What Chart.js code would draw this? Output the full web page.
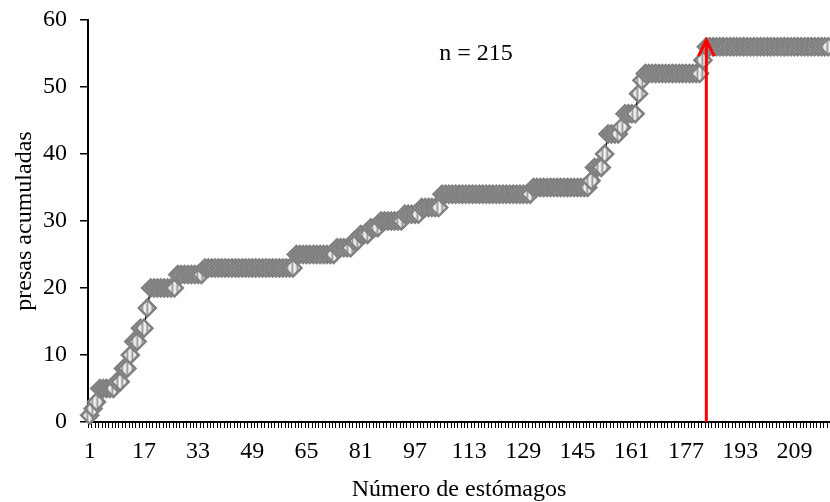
<!DOCTYPE html>
<html>
<head>
<meta charset="utf-8">
<script src="https://cdn.jsdelivr.net/npm/chart.js@4/dist/chart.umd.min.js"></script>
<style>
  html, body { margin: 0; padding: 0; background: #fff; overflow: hidden; }
  #wrap { width: 830px; height: 502px; }
</style>
</head>
<body>
<div id="wrap"><canvas id="curve" width="830" height="502"></canvas></div>
<script>
// number of stomachs on the x axis (the axis runs a bit past the last labelled one)
const nStomachs = 219;
const stomachs = Array.from({ length: nStomachs }, (_, i) => String(i + 1));
const tickEvery = 16; // 1, 17, 33 ... 209

// cumulative prey, one value per stomach
const preyCum = [
  1, 2, 3, 5, 5, 5, 5, 5, 6, 6,
  8, 8, 10, 12, 12, 14, 14, 17, 20, 20,
  20, 20, 20, 20, 20, 20, 22, 22, 22, 22,
  22, 22, 22, 22, 23, 23, 23, 23, 23, 23,
  23, 23, 23, 23, 23, 23, 23, 23, 23, 23,
  23, 23, 23, 23, 23, 23, 23, 23, 23, 23,
  23, 25, 25, 25, 25, 25, 25, 25, 25, 25,
  25, 25, 25, 26, 26, 26, 26, 26, 27, 27,
  28, 28, 28, 29, 29, 29, 30, 30, 30, 30,
  30, 30, 30, 31, 31, 31, 31, 31, 32, 32,
  32, 32, 32, 32, 34, 34, 34, 34, 34, 34,
  34, 34, 34, 34, 34, 34, 34, 34, 34, 34,
  34, 34, 34, 34, 34, 34, 34, 34, 34, 34,
  34, 35, 35, 35, 35, 35, 35, 35, 35, 35,
  35, 35, 35, 35, 35, 35, 35, 35, 36, 38,
  38, 38, 40, 43, 43, 43, 43, 44, 46, 46,
  46, 46, 49, 51, 52, 52, 52, 52, 52, 52,
  52, 52, 52, 52, 52, 52, 52, 52, 52, 52,
  52, 54, 56, 56, 56, 56, 56, 56, 56, 56,
  56, 56, 56, 56, 56, 56, 56, 56, 56, 56,
  56, 56, 56, 56, 56, 56, 56, 56, 56, 56,
  56, 56, 56, 56, 56, 56, 56, 56, 56
];

const yTicks = [0, 10, 20, 30, 40, 50, 60];
const arrowAt = 183;   // stomach where the red arrow stands
const arrowTop = 57;   // arrow tip, in prey units
const nLabel = "n = 215";
const nLabelAt = [115, 54]; // stomach, prey (text baseline)

const serif = "'Liberation Serif', 'Times New Roman', serif";

// striped fill for the diamonds (Excel-like gradient look)
const pc = document.createElement("canvas");
pc.width = 5; pc.height = 1;
const pctx = pc.getContext("2d");
["#e2e2e2", "#c4c4c4", "#9c9c9c", "#cfcfcf", "#f2f2f2"].forEach((col, i) => {
  pctx.fillStyle = col;
  pctx.fillRect(i, 0, 1, 1);
});
const stripes = pctx.createPattern(pc, "repeat");

const extras = {
  id: "extras",
  beforeDatasetsDraw(chart) {
    // a short tick mark between every pair of stomachs, like the source axis
    const ctx = chart.ctx;
    const xs = chart.scales.x;
    const half = (xs.getPixelForValue(1) - xs.getPixelForValue(0)) / 2;
    ctx.save();
    ctx.strokeStyle = "#000";
    ctx.lineWidth = 1;
    ctx.beginPath();
    for (let i = 0; i <= stomachs.length; i++) {
      const x = Math.round(xs.getPixelForValue(i) - half) + 0.5;
      ctx.moveTo(x, xs.top);
      ctx.lineTo(x, xs.top + 6);
    }
    ctx.stroke();
    ctx.restore();
  },
  afterDatasetsDraw(chart) {
    const ctx = chart.ctx;
    const xs = chart.scales.x, ys = chart.scales.y;
    // red arrow
    const x = xs.getPixelForValue(arrowAt - 1);
    const y0 = ys.getPixelForValue(0);
    const y1 = ys.getPixelForValue(arrowTop);
    ctx.save();
    ctx.strokeStyle = "#ff0000";
    ctx.lineWidth = 3;
    ctx.beginPath();
    ctx.moveTo(x, y0);
    ctx.lineTo(x, y1);
    ctx.stroke();
    ctx.beginPath();
    ctx.moveTo(x - 8, y1 + 16);
    ctx.lineTo(x, y1);
    ctx.lineTo(x + 8, y1 + 16);
    ctx.stroke();
    // n label
    ctx.fillStyle = "#000";
    ctx.font = "24px " + serif;
    ctx.textAlign = "center";
    ctx.textBaseline = "alphabetic";
    ctx.fillText(nLabel, xs.getPixelForValue(nLabelAt[0] - 1), ys.getPixelForValue(nLabelAt[1]));
    ctx.restore();
  }
};

new Chart("curve", {
  type: "line",
  data: {
    labels: stomachs,
    datasets: [
      {
        data: preyCum,
        borderColor: "#000000",
        borderWidth: 1.5,
        pointStyle: "rectRot",
        pointRadius: 8.5,
        pointBorderWidth: 2.5,
        pointBorderColor: "#808080",
        pointBackgroundColor: stripes,
        tension: 0,
      },
    ],
  },
  options: {
    responsive: false,
    animation: false,
    devicePixelRatio: 1,
    clip: false,
    layout: { autoPadding: false, padding: { top: 20, right: 0, bottom: 0, left: 0 } },
    plugins: { legend: { display: false }, tooltip: { enabled: false } },
    scales: {
      x: {
        type: "category",
        offset: true,
        afterFit: (s) => { s.height = 80; s.paddingLeft = 0; s.paddingRight = 0; },
        grid: {
          offset: true,
          drawOnChartArea: false,
          drawTicks: true,
          tickLength: 15, // spacer only; the visible ticks are drawn above
          color: "rgba(0,0,0,0)",
        },
        border: { display: true, color: "#000", width: 2 },
        ticks: {
          autoSkip: false,
          maxRotation: 0,
          minRotation: 0,
          padding: 0,
          color: "#000",
          font: { family: serif, size: 24 },
          callback: (v, i) => (i % tickEvery === 0 ? stomachs[i] : ""),
        },
        title: {
          display: true,
          text: "Número de estómagos",
          color: "#000",
          font: { family: serif, size: 24 },
          padding: { top: 0, bottom: -2 },
        },
      },
      y: {
        min: 0,
        max: 60,
        afterFit: (s) => { s.width = 88; s.paddingTop = 0; s.paddingBottom = 0; },
        afterBuildTicks: (s) => { s.ticks = yTicks.map((v) => ({ value: v })); },
        grid: {
          drawOnChartArea: false,
          drawTicks: true,
          tickLength: 8,
          color: "#000",
          lineWidth: 1.5,
        },
        border: { display: true, color: "#000", width: 2 },
        ticks: {
          padding: 13,
          color: "#000",
          font: { family: serif, size: 24 },
        },
        title: {
          display: true,
          text: "presas acumuladas",
          color: "#000",
          font: { family: serif, size: 24 },
          padding: { top: 10, bottom: 0 },
        },
      },
    },
  },
  plugins: [extras],
});
</script>
</body>
</html>
